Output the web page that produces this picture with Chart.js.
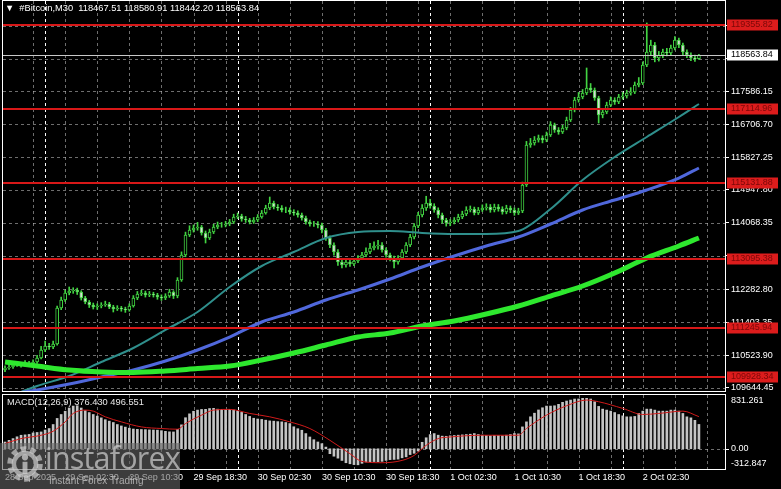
<!DOCTYPE html>
<html>
<head>
<meta charset="UTF-8">
<title>#Bitcoin,M30</title>
<script src="https://cdn.jsdelivr.net/npm/chart.js"></script>
<style>
  html, body { margin: 0; padding: 0; background: #000; }
  body { width: 781px; height: 489px; position: relative; overflow: hidden; font-family: 'Liberation Sans', sans-serif; }
  canvas { position: absolute; left: 0; }
  #main { top: 0; }
  #macd { top: 392px; }
  .lbl { position: absolute; color: #fff; font-size: 9.3px; white-space: pre; line-height: 10px; }
  #head { left: 5px; top: 3px; }
  #macdTitle { left: 7px; top: 397px; color: #e8e8e8; }
  #wm { position: absolute; left: 0; top: 443px; width: 180px; height: 46px; background: rgba(100,100,100,0.6); }
  #wm .big { position: absolute; left: 45px; top: -7px; font: 400 30.5px 'Open Sans', sans-serif; letter-spacing: -0.8px; color: rgba(205,205,205,0.72); }
  #wm .small { position: absolute; left: 49px; top: 32px; font: 10px 'Liberation Sans', sans-serif; color: rgba(205,205,205,0.75); }
</style>
</head>
<body>
<canvas id="main" width="781" height="392"></canvas>
<canvas id="macd" width="781" height="97"></canvas>
<div class="lbl" id="head">▼  #Bitcoin,M30  118467.51 118580.91 118442.20 118563.84</div>
<div class="lbl" id="macdTitle">MACD(12,26,9) 376.430 496.551</div>
<div id="wm">
  <svg width="40" height="40" viewBox="0 0 36 36" style="position:absolute;left:5px;top:1px">
    <circle cx="18" cy="18" r="13.5" fill="none" stroke="rgba(205,205,205,0.7)" stroke-width="5" stroke-dasharray="4.8 3.7"/>
    <circle cx="18" cy="18" r="10" fill="none" stroke="rgba(205,205,205,0.7)" stroke-width="4"/>
    <circle cx="18" cy="12" r="2.8" fill="rgba(205,205,205,0.75)"/>
    <rect x="15.8" y="16" width="4.4" height="11" fill="rgba(205,205,205,0.75)"/>
  </svg>
  <span class="big">instaforex</span>
  <span class="small">Instant Forex Trading</span>
</div>
<script>
// 30-minute candles, 28 Sep 19:00 .. 2 Oct 09:30
const opens = [
  110130,110180,110207,110260,110287,110260,110314,110287,110341,110448,
  110662,110769,110742,110823,111787,112001,112189,112242,112269,112216,
  112055,111948,111867,111814,111841,111867,111894,111814,111760,111787,
  111760,111733,111841,112055,112162,112189,112135,112162,112135,112082,
  112055,112108,112216,112108,112537,113207,113742,113876,113930,113957,
  113796,113662,113823,113957,114010,114010,114037,114091,114225,114251,
  114171,114144,114091,114144,114225,114332,114466,114599,114492,114466,
  114412,114412,114358,114332,114278,114198,114091,114037,114037,114010,
  113876,113662,113475,113287,113019,112939,113019,112966,113046,113126,
  113207,113287,113394,113448,113475,113341,113207,113126,113019,113126,
  113287,113475,113689,113983,114278,114466,114599,114519,114412,114278,
  114144,114064,114091,114144,114225,114305,114412,114439,114332,114412,
  114466,114492,114412,114492,114439,114358,114466,114412,114332,114385,
  115082,116153,116207,116287,116340,116287,116421,116689,116555,116501,
  116608,116823,117090,117358,117439,117546,117680,117626,117412,116957,
  117037,117224,117358,117305,117439,117465,117546,117573,117760,117814,
  118296,118644,118832,118483,118564,118644,118617,118751,118965,118832,
  118644,118564,118483,118467.51
];
const highs = [
  110240,110290,110310,110350,110330,110380,110360,110400,110520,110760,
  110900,110840,110900,111840,112080,112260,112350,112330,112320,112250,
  112100,111990,111920,111900,111930,111970,111940,111860,111850,111830,
  111810,111900,112120,112230,112260,112240,112230,112210,112180,112140,
  112170,112290,112250,112600,113290,113820,113990,114010,114080,114000,
  113850,113900,114030,114090,114080,114110,114160,114300,114330,114300,
  114240,114190,114210,114290,114400,114540,114760,114650,114560,114530,
  114490,114470,114420,114390,114330,114250,114140,114110,114100,114060,
  113920,113720,113530,113350,113100,113090,113080,113110,113190,113280,
  113400,113520,113560,113600,113540,113400,113260,113180,113190,113350,
  113540,113760,114050,114350,114560,114780,114700,114580,114470,114330,
  114190,114160,114210,114300,114380,114500,114520,114490,114480,114550,
  114580,114560,114570,114560,114500,114540,114520,114470,114460,115160,
  116250,116330,116380,116420,116400,116500,116780,116740,116620,116680,
  116900,117160,117430,117560,117640,118216,117800,117680,117460,117120,
  117300,117440,117420,117510,117560,117620,117690,117840,117960,118380,
  119421,118960,118900,118660,118720,118740,118830,119060,119020,118880,
  118700,118620,118560,118580.91
];
const lows = [
  110080,110140,110170,110220,110200,110230,110240,110250,110300,110420,
  110620,110680,110700,110790,111740,111960,112140,112180,112150,112000,
  111900,111800,111760,111750,111790,111830,111770,111680,111720,111700,
  111670,111700,111810,112010,112120,112080,112090,112080,112020,111990,
  112010,112070,112040,112060,112500,113160,113700,113820,113870,113740,
  113528,113620,113780,113910,113950,113960,113990,114050,114180,114110,
  114080,114040,114050,114100,114190,114300,114420,114440,114400,114360,
  114340,114300,114270,114220,114140,114030,113980,113970,113930,113800,
  113600,113400,113200,112930,112859,112880,112900,112920,113000,113080,
  113160,113240,113340,113360,113280,113150,113050,112859,112960,113080,
  113240,113430,113640,113940,114230,114400,114460,114350,114200,114060,
  113980,113990,114040,114090,114180,114260,114360,114280,114290,114370,
  114410,114350,114360,114380,114300,114310,114340,114270,114290,114340,
  115040,116090,116150,116230,116210,116240,116380,116490,116440,116460,
  116560,116780,117040,117300,117390,117500,117560,117350,116742,116880,
  116990,117180,117240,117260,117380,117410,117490,117530,117710,117770,
  118250,118560,118380,118400,118490,118540,118570,118700,118760,118570,
  118490,118410,118390,118442.20
];
const closes = [
  110180,110207,110260,110287,110260,110314,110287,110341,110448,110662,
  110769,110742,110823,111787,112001,112189,112242,112269,112216,112055,
  111948,111867,111814,111841,111867,111894,111814,111760,111787,111760,
  111733,111841,112055,112162,112189,112135,112162,112135,112082,112055,
  112108,112216,112108,112537,113207,113742,113876,113930,113957,113796,
  113662,113823,113957,114010,114010,114037,114091,114225,114251,114171,
  114144,114091,114144,114225,114332,114466,114599,114492,114466,114412,
  114412,114358,114332,114278,114198,114091,114037,114037,114010,113876,
  113662,113475,113287,113019,112939,113019,112966,113046,113126,113207,
  113287,113394,113448,113475,113341,113207,113126,113019,113126,113287,
  113475,113689,113983,114278,114466,114599,114519,114412,114278,114144,
  114064,114091,114144,114225,114305,114412,114439,114332,114412,114466,
  114492,114412,114492,114439,114358,114466,114412,114332,114385,115082,
  116153,116207,116287,116340,116287,116421,116689,116555,116501,116608,
  116823,117090,117358,117439,117546,117680,117626,117412,116957,117037,
  117224,117358,117305,117439,117465,117546,117573,117760,117814,118296,
  118644,118832,118483,118564,118644,118617,118751,118965,118832,118644,
  118564,118483,118467.51,118563.84
];

// moving averages, read every 8 bars
const maBars = [0,8,16,24,32,40,48,56,64,72,80,88,96,104,112,120,128,136,144,152,160,168,173];
const maTeal = [109376,109698,109966,110341,110716,111198,111680,112350,112912,113287,113662,113823,113850,113796,113769,113769,113850,114439,115216,115832,116367,116903,117251];
const maBlue = [109457,109591,109751,109939,110126,110367,110662,111010,111412,111680,112001,112269,112564,112885,113180,113448,113689,114037,114412,114680,114948,115269,115537];
const maLime = [110341,110233,110126,110073,110059,110100,110167,110233,110394,110582,110796,111010,111117,111305,111439,111626,111841,112108,112376,112724,113126,113448,113662];

// MACD(12,26,9)
const macdHist = [
  104,130,157,185,209,215,222,245,252,260,
  290,313,375,469,530,580,630,660,665,630,
  590,560,530,505,478,450,427,406,375,353,
  335,318,305,300,298,296,292,290,288,280,
  270,262,260,300,370,480,540,580,598,608,
  610,622,625,612,608,605,610,600,582,562,
  530,500,472,460,453,442,431,427,420,416,
  406,390,340,310,286,235,182,140,105,79,
  26,-76,-115,-145,-181,-216,-232,-245,-248,-225,
  -205,-200,-198,-200,-195,-180,-168,-165,-160,-140,
  -125,-90,-70,-35,100,170,219,235,210,195,
  193,200,205,210,215,220,225,235,220,210,
  205,200,205,205,200,210,220,235,230,338,
  416,494,550,600,634,660,660,665,687,718,
  738,753,769,770,780,780,769,727,655,613,
  598,582,560,530,509,494,494,500,546,582,
  613,613,598,582,582,582,598,598,582,546,
  494,478,440,376.43
];
const sigBars = [0,4,9,12,15,17,20,22,25,29,34,39,43,45,49,52,56,61,66,71,76,81,86,89,94,99,102,105,108,111,119,128,130,135,140,145,148,154,159,163,169,173];
const sigVals = [80,157,209,271,416,546,598,582,494,416,338,313,302,390,520,598,609,546,494,416,313,131,-76,-196,-216,-180,-103,53,157,182,209,209,313,520,665,753,727,624,530,546,582,496.551];

const levels = [119355.82, 117114.96, 115131.88, 113095.38, 111245.94, 109928.34];
const lastPrice = 118563.84;
const priceTicks = [119345.05, 118465.60, 117586.15, 116706.70, 115827.25, 114947.80, 114068.35, 113188.90, 112282.80, 111403.35, 110523.90, 109644.45];
const hiddenTicks = [119345.05, 118465.60, 113188.90];
const timeLabels = ['28 Sep 2025', '29 Sep 02:30', '29 Sep 10:30', '29 Sep 18:30', '30 Sep 02:30', '30 Sep 10:30', '30 Sep 18:30', '1 Oct 02:30', '1 Oct 10:30', '1 Oct 18:30', '2 Oct 02:30'];
const timeLabelBars = [0, 15, 31, 47, 63, 79, 95, 111, 127, 143, 159];
const separatorBars = [10, 58, 106, 154];
const macdMax = 831.261, macdMin = -312.847;

const slots = Array.from({ length: 180 }, (_, i) => i);
const sparse = (bars, vals) => slots.map(i => { const k = bars.indexOf(i); return k < 0 ? null : vals[k]; });

Chart.defaults.font.family = "'Liberation Sans', sans-serif";
Chart.defaults.font.size = 9;
Chart.defaults.color = '#fff';

const GRID = 'rgba(200,200,200,0.55)';
const CANDLE = '#42d442';

function drawVGrid(chart) {
  const { ctx, chartArea: a, scales: { x } } = chart;
  ctx.save();
  ctx.lineWidth = 1;
  ctx.setLineDash([3, 3]);
  ctx.strokeStyle = GRID;
  ctx.beginPath();
  for (let i = 7; i < slots.length; i += 8) {
    const px = Math.round(x.getPixelForValue(i)) + 0.5;
    ctx.moveTo(px, a.top); ctx.lineTo(px, a.bottom);
  }
  ctx.stroke();
  ctx.strokeStyle = '#ffffff';
  ctx.beginPath();
  separatorBars.forEach(i => {
    const px = Math.round(x.getPixelForValue(i)) + 0.5;
    ctx.moveTo(px, a.top); ctx.lineTo(px, a.bottom);
  });
  ctx.stroke();
  ctx.restore();
}

function frame(chart) {
  const { ctx, chartArea: a } = chart;
  ctx.save();
  ctx.strokeStyle = '#fff';
  ctx.lineWidth = 1;
  ctx.strokeRect(a.left - 0.5, a.top - 0.5, a.right - a.left + 1, a.bottom - a.top + 1);
  ctx.restore();
}

const mainDecor = {
  id: 'mainDecor',
  beforeDatasetsDraw(chart) {
    const { ctx, chartArea: a, scales: { y } } = chart;
    ctx.save();
    ctx.lineWidth = 1;
    ctx.setLineDash([3, 3]);
    ctx.strokeStyle = GRID;
    ctx.beginPath();
    priceTicks.forEach(v => {
      const py = Math.round(y.getPixelForValue(v)) + 0.5;
      ctx.moveTo(a.left, py); ctx.lineTo(a.right, py);
    });
    ctx.stroke();
    ctx.restore();
    drawVGrid(chart);
  },
  afterDatasetsDraw(chart) {
    const { ctx, chartArea: a, scales: { y } } = chart;
    ctx.save();
    ctx.strokeStyle = '#c8c8c8';
    ctx.lineWidth = 1;
    let py = Math.round(y.getPixelForValue(lastPrice)) + 0.5;
    ctx.beginPath(); ctx.moveTo(a.left, py); ctx.lineTo(a.right, py); ctx.stroke();
    ctx.strokeStyle = '#d81818';
    ctx.lineWidth = 2;
    levels.forEach(v => {
      py = Math.round(y.getPixelForValue(v));
      ctx.beginPath(); ctx.moveTo(a.left, py); ctx.lineTo(a.right, py); ctx.stroke();
    });
    ctx.restore();
  },
  afterDraw(chart) {
    const { ctx, chartArea: a, scales: { y } } = chart;
    frame(chart);
    ctx.save();
    ctx.font = "9px 'Liberation Sans', sans-serif";
    ctx.textBaseline = 'middle';
    levels.forEach(v => {
      const py = Math.round(y.getPixelForValue(v));
      ctx.fillStyle = '#dc1c1c';
      ctx.fillRect(a.right + 2, py - 5.5, 51, 11);
      ctx.fillStyle = '#7a0808';
      ctx.fillText(v.toFixed(2), a.right + 6, py);
    });
    const py = Math.round(y.getPixelForValue(lastPrice));
    ctx.fillStyle = '#fff';
    ctx.fillRect(a.right + 2, py - 5.5, 51, 11);
    ctx.fillStyle = '#000';
    ctx.fillText(lastPrice.toFixed(2), a.right + 6, py);
    ctx.restore();
  }
};

const macdDecor = {
  id: 'macdDecor',
  beforeDatasetsDraw(chart) {
    const { ctx, chartArea: a, scales: { y } } = chart;
    drawVGrid(chart);
    ctx.save();
    ctx.setLineDash([3, 3]);
    ctx.strokeStyle = GRID;
    const py = Math.round(y.getPixelForValue(0)) + 0.5;
    ctx.beginPath(); ctx.moveTo(a.left, py); ctx.lineTo(a.right, py); ctx.stroke();
    ctx.restore();
  },
  afterDraw(chart) {
    const { ctx, chartArea: a, scales: { y } } = chart;
    frame(chart);
    ctx.save();
    ctx.font = "9px 'Liberation Sans', sans-serif";
    ctx.fillStyle = '#fff';
    ctx.strokeStyle = '#fff';
    const lx = a.right + 6;
    ctx.textBaseline = 'top';
    ctx.fillText(macdMax.toFixed(3), lx, a.top + 1);
    const py = Math.round(y.getPixelForValue(0));
    ctx.textBaseline = 'middle';
    ctx.fillText('0.00', lx, py);
    ctx.beginPath(); ctx.moveTo(a.right, py + 0.5); ctx.lineTo(a.right + 4, py + 0.5); ctx.stroke();
    ctx.textBaseline = 'bottom';
    ctx.fillText(macdMin.toFixed(3), lx, a.bottom - 1);
    ctx.restore();
  }
};

new Chart(document.getElementById('main'), {
  data: {
    labels: slots,
    datasets: [
      {
        type: 'line', label: 'MA lime', data: sparse(maBars, maLime), spanGaps: true,
        borderColor: '#2ee82e', borderWidth: 5, pointRadius: 0, cubicInterpolationMode: 'monotone', clip: 0, order: 1
      },
      {
        type: 'line', label: 'MA blue', data: sparse(maBars, maBlue), spanGaps: true,
        borderColor: '#5068dc', borderWidth: 3, pointRadius: 0, cubicInterpolationMode: 'monotone', clip: 0, order: 2
      },
      {
        type: 'line', label: 'MA teal', data: sparse(maBars, maTeal), spanGaps: true,
        borderColor: '#2f8f8c', borderWidth: 2, pointRadius: 0, cubicInterpolationMode: 'monotone', clip: 0, order: 3
      },
      {
        type: 'bar', label: 'body', data: opens.map((o, i) => [o, closes[i]]), grouped: false,
        barThickness: 3, borderWidth: 1, borderSkipped: false, borderColor: CANDLE,
        backgroundColor: opens.map((o, i) => closes[i] >= o ? '#000' : '#d8d8d8'), order: 4
      },
      {
        type: 'bar', label: 'wick', data: lows.map((l, i) => [l, highs[i]]), grouped: false,
        barThickness: 1, borderWidth: 0, backgroundColor: CANDLE, order: 5
      }
    ]
  },
  options: {
    responsive: false,
    animation: false,
    devicePixelRatio: 1,
    layout: { autoPadding: false, padding: { left: 3, top: 1, right: 0, bottom: 1 } },
    plugins: { legend: { display: false }, tooltip: { enabled: false } },
    scales: {
      x: { type: 'category', offset: true, display: false },
      y: {
        position: 'right', min: 109564, max: 120010,
        afterBuildTicks: s => { s.ticks = priceTicks.map(v => ({ value: v })); },
        afterFit: s => { s.width = 56; s.paddingTop = 0; s.paddingBottom = 0; },
        grid: { drawOnChartArea: false, drawTicks: true, tickLength: 4, tickColor: '#fff' },
        border: { display: false },
        ticks: {
          color: '#fff', padding: 2, font: { size: 9 },
          callback: v => hiddenTicks.includes(v) ? '' : Number(v).toFixed(2)
        }
      }
    }
  },
  plugins: [mainDecor]
});

new Chart(document.getElementById('macd'), {
  data: {
    labels: slots,
    datasets: [
      {
        type: 'line', label: 'Signal', data: sparse(sigBars, sigVals), spanGaps: true,
        borderColor: '#d01a1a', borderWidth: 1, pointRadius: 0, cubicInterpolationMode: 'monotone', clip: 0, order: 1
      },
      {
        type: 'bar', label: 'MACD', data: macdHist, grouped: false,
        barThickness: 2, borderWidth: 0, backgroundColor: '#c4c4c4', order: 2
      }
    ]
  },
  options: {
    responsive: false,
    animation: false,
    devicePixelRatio: 1,
    layout: { autoPadding: false, padding: { left: 3, top: 3, right: 0, bottom: 0 } },
    plugins: { legend: { display: false }, tooltip: { enabled: false } },
    scales: {
      x: {
        type: 'category', offset: true,
        grid: { display: false, drawTicks: false }, border: { display: false },
        afterFit: s => { s.height = 20; s.paddingLeft = 0; s.paddingRight = 0; },
        ticks: {
          autoSkip: false, maxRotation: 0, minRotation: 0, align: 'start', padding: 3,
          color: '#fff', font: { size: 9 },
          callback: (v, i) => { const k = timeLabelBars.indexOf(i); return k < 0 ? '' : timeLabels[k]; }
        }
      },
      y: {
        position: 'right', min: macdMin, max: macdMax,
        afterFit: s => { s.width = 56; },
        grid: { display: false }, border: { display: false },
        ticks: { display: false }
      }
    }
  },
  plugins: [macdDecor]
});
</script>
</body>
</html>
